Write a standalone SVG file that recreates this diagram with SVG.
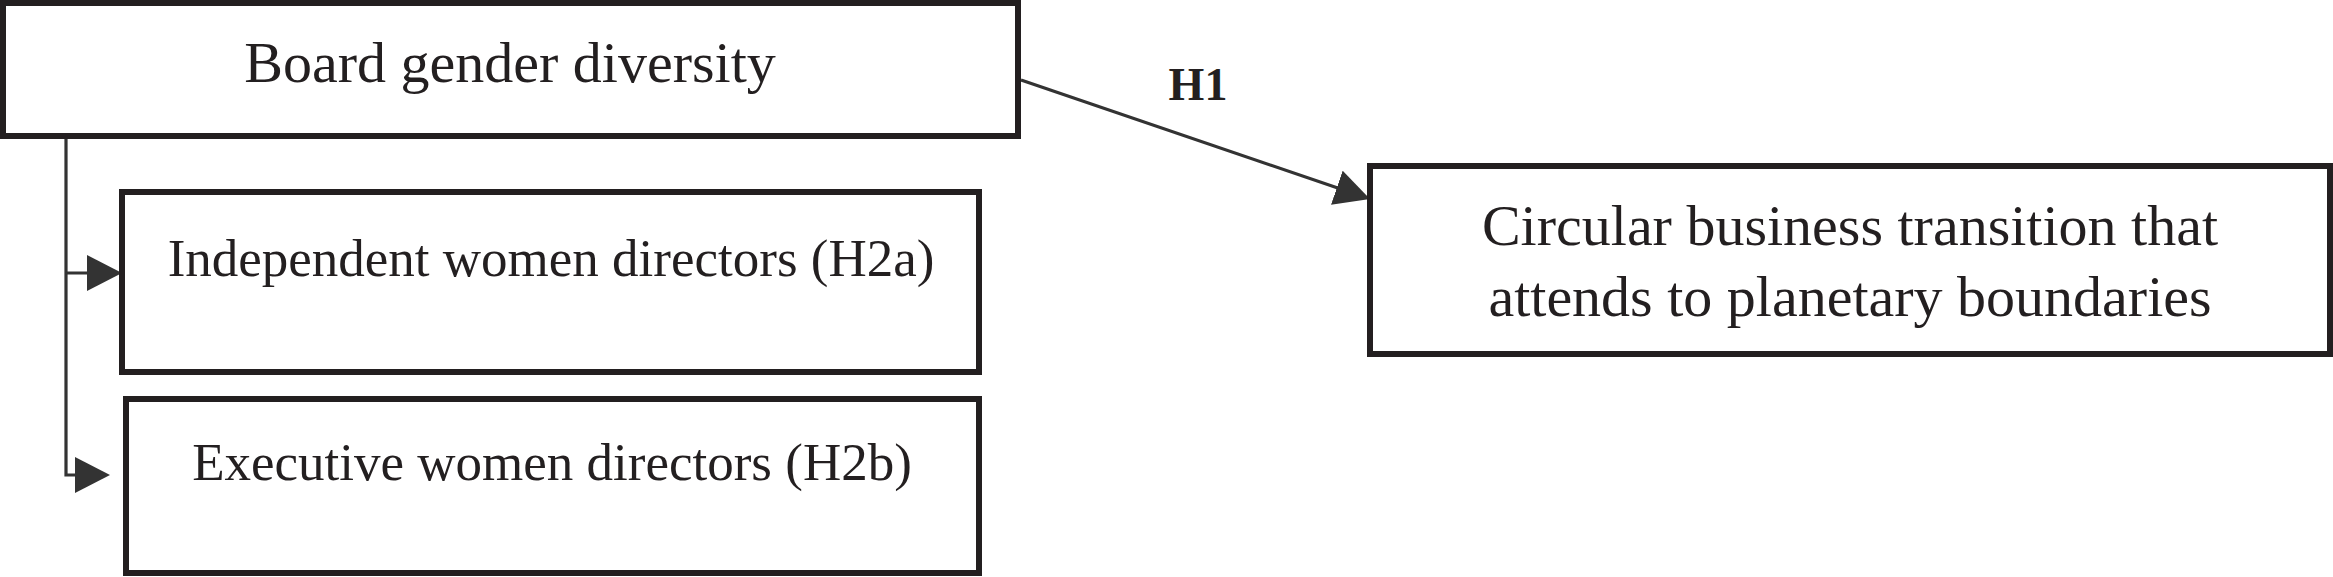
<svg xmlns="http://www.w3.org/2000/svg" width="2333" height="577" viewBox="0 0 2333 577">
<style>
.box{fill:#fff;stroke:#231f20;stroke-width:6}
.lbl{font-family:"Liberation Serif","Times New Roman",serif;fill:#231f20;text-anchor:middle}
.conn{fill:none;stroke:#333;stroke-width:3.2}
</style>
<defs>
<marker id="ah" markerUnits="userSpaceOnUse" markerWidth="36" markerHeight="36" refX="25" refY="18" orient="auto">
<path d="M0,0 L35,18 L0,36 z" fill="#333"/>
</marker>
</defs>
<rect width="2333" height="577" fill="#fff"/>
<g id="connectors">
<path class="conn" d="M66,138 V475 H100" marker-end="url(#ah)"/>
<path class="conn" d="M66,273 H112" marker-end="url(#ah)"/>
<path class="conn" d="M1021,80 L1360.5,195.8" marker-end="url(#ah)"/>
<text class="lbl" x="1198" y="100" font-size="46" font-weight="bold">H1</text>
</g>
<g id="board">
<rect class="box" x="3" y="3" width="1015" height="133"/>
<text class="lbl" x="510" y="82" font-size="58">Board gender diversity</text>
</g>
<g id="independent">
<rect class="box" x="122" y="192" width="857" height="180"/>
<text class="lbl" x="551" y="276" font-size="53">Independent women directors (H2a)</text>
</g>
<g id="executive">
<rect class="box" x="126" y="399" width="853" height="174"/>
<text class="lbl" x="552" y="480" font-size="53">Executive women directors (H2b)</text>
</g>
<g id="circular">
<rect class="box" x="1370" y="166" width="960" height="188"/>
<text class="lbl" x="1850" y="245" font-size="58">Circular business transition that</text>
<text class="lbl" x="1850" y="316" font-size="58">attends to planetary boundaries</text>
</g>
</svg>
